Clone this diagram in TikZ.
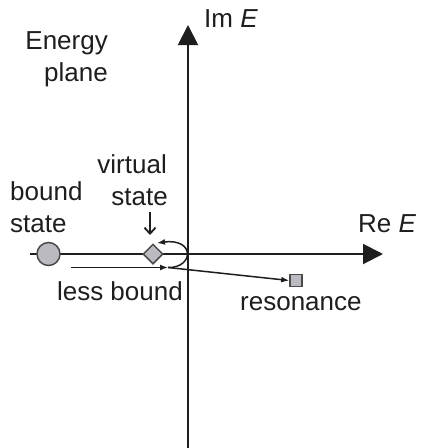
\documentclass[tikz,border=0pt]{standalone}
\usepackage{fontspec}
\setmainfont{Liberation Sans}
\usetikzlibrary{arrows.meta,shapes.geometric}
\definecolor{mk}{RGB}{186,186,192}
\definecolor{ink}{RGB}{30,30,30}
\begin{document}
\begin{tikzpicture}[x=1pt,y=-1pt,
  lbl/.style={font=\fontsize{26}{30}\selectfont, text=ink, inner sep=0pt},
  axis/.style={line width=2pt, draw=ink, -{Triangle[length=20pt,width=20pt]}},
  thin/.style={line width=1.5pt, draw=ink, -{Latex[length=8pt,width=6pt]}},
  marker/.style={draw=ink!80, line width=1.5pt, fill=mk, inner sep=0pt}]
\useasboundingbox (0,0) rectangle (421,448);
% axes
\coordinate (xs) at (30,254);
\coordinate (xe) at (383,254);
\coordinate (ys) at (188,448);
\coordinate (ye) at (188,25);
\draw[axis] (xs) -- (xe);
\draw[axis] (ys) -- (ye);
% markers
\node[marker, circle, minimum size=23pt] (bs) at (48.5,254) {};
\node[marker, diamond, minimum width=20pt, minimum height=20pt] (vs) at (153,254) {};
\node[marker, rectangle, minimum size=12pt] (res) at (296,280.5) {};
% connectors
\coordinate (lb0) at (71,267.5);
\coordinate (lb1) at (168,267.5);
\coordinate (top) at (157,243);
\draw[thin] (lb0) -- (lb1);
\draw[thin] (lb1) .. controls (194,268) and (195,238) .. (top);
\draw[thin] (lb1) -- (res.west);
% labels
\node[lbl, anchor=base east] (en) at (108,49) {Energy};
\node[lbl, anchor=base east] (pl) at (108,81) {plane};
\node[lbl, anchor=base west] (im) at (204,27) {Im \textit{E}};
\node[lbl, anchor=base west] (re) at (358,232) {Re \textit{E}};
\node[lbl, anchor=base east] (vi) at (167,173) {virtual};
\node[lbl, anchor=base east] (vst) at (168,205) {state};
\node[lbl, anchor=base west] (bo) at (10,200) {bound};
\node[lbl, anchor=base west] (bst) at (10,232) {state};
\node[lbl, anchor=base east] (lb) at (183,300) {less bound};
\node[lbl, anchor=base west] (rs) at (240,310) {resonance};
% small arrow
\coordinate (sa0) at (150,212);
\coordinate (sa1) at (150,235);
\draw[line width=1.8pt, draw=ink, -{Straight Barb[length=6pt,width=11pt]}] (sa0) -- (sa1);
\end{tikzpicture}
\end{document}
